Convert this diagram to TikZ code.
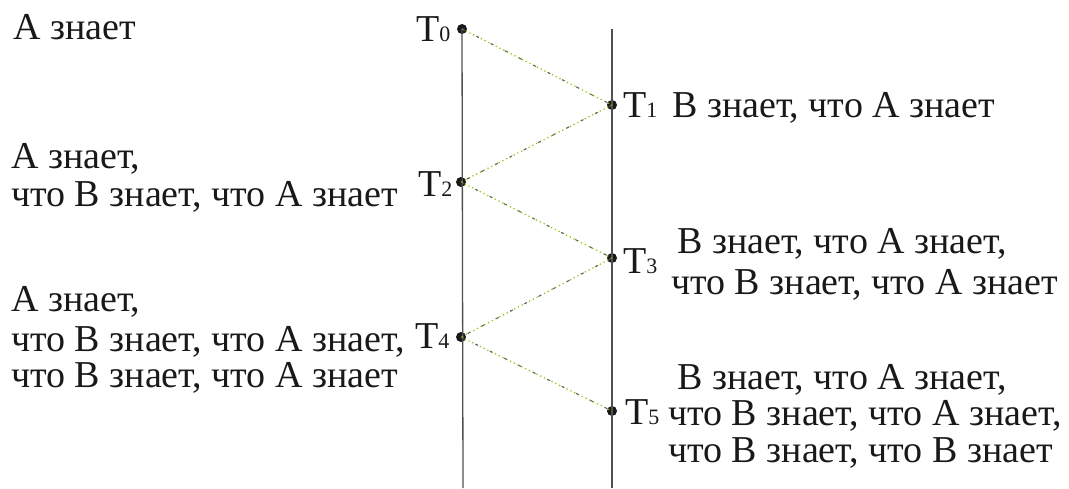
\documentclass[tikz,border=0pt]{standalone}
\usepackage{fontspec}
\setmainfont{Liberation Serif}
\definecolor{lime}{RGB}{130,200,0}
\definecolor{axis}{RGB}{80,80,80}
\newcommand\tsub[1]{{\fontsize{22}{22}\selectfont #1}}
\tikzset{
  txt/.style={anchor=base west, inner sep=0pt, font=\fontsize{38}{42}\selectfont, text=black!90},
  lab/.style={anchor=base west, inner sep=0pt, font=\fontsize{38}{42}\selectfont, text=black!90},
  dot/.style={circle, fill=black!90, inner sep=0pt, minimum size=10pt},
  axisline/.style={draw=axis, line width=1.3pt},
  conn/.style={draw=lime, line width=1.2pt, dash pattern=on 1.2pt off 3pt},
  connb/.style={draw=black!60, line width=1.1pt, dash pattern=on 3pt off 13pt}
}
\begin{document}
\begin{tikzpicture}[x=1pt,y=-1pt]
\useasboundingbox (0,0) rectangle (1069,488);
% axes
\coordinate (lb) at (463,488);
\coordinate (rt) at (612,29);
\coordinate (rb) at (612,488);
\node[dot] (t0) at (462,29) {};
\node[dot] (t1) at (612,105) {};
\node[dot] (t2) at (461,182) {};
\node[dot] (t3) at (612,258) {};
\node[dot] (t4) at (461,337) {};
\node[dot] (t5) at (612,411) {};
\draw[axisline] (t0.center) -- (lb);
\draw[axisline] (rt) -- (rb);
% connectors
\foreach \a/\b in {t0/t1,t1/t2,t2/t3,t3/t4,t4/t5}{
  \draw[conn] (\a.center) -- (\b.center);
  \draw[connb] (\a.center) -- (\b.center);
}
% labels
\node[lab] (l0) at (416,41) {T\tsub{0}};
\node[lab] (l1) at (623,117) {T\tsub{1}};
\node[lab] (l2) at (418,196) {T\tsub{2}};
\node[lab] (l3) at (623,273) {T\tsub{3}};
\node[lab] (l4) at (415,348) {T\tsub{4}};
\node[lab] (l5) at (625,424) {T\tsub{5}};
% left texts
\node[txt] (a0) at (13,39) {А знает};
\node[txt] (a2a) at (11,168) {А знает,};
\node[txt] (a2b) at (11,206) {что В знает, что А знает};
\node[txt] (a4a) at (11,311) {А знает,};
\node[txt] (a4b) at (11,351) {что В знает, что А знает,};
\node[txt] (a4c) at (11,387) {что В знает, что А знает};
% right texts
\node[txt] (b1) at (672,117) {В знает, что А знает};
\node[txt] (b3a) at (677,253) {В знает, что А знает,};
\node[txt] (b3b) at (671,294) {что В знает, что А знает};
\node[txt] (b5a) at (677,389) {В знает, что А знает,};
\node[txt] (b5b) at (668,425) {что В знает, что А знает,};
\node[txt] (b5c) at (668,462) {что В знает, что В знает};
\end{tikzpicture}
\end{document}
